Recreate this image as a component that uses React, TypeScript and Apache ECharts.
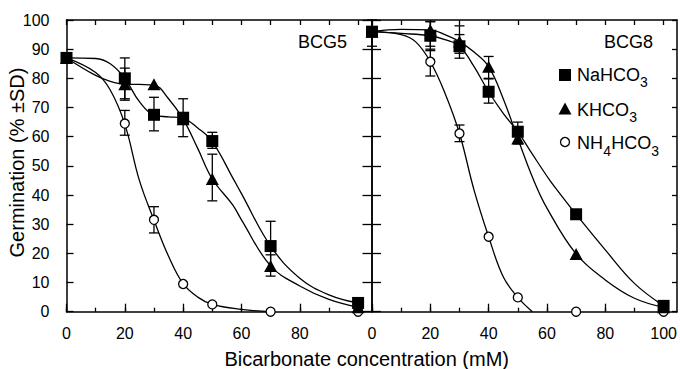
import React, { useEffect, useRef } from "react";
import * as echarts from "echarts";

// ---------- data ----------
const conc = [0, 20, 30, 40, 50, 70, 100];
const xTickValues = [0, 10, 20, 30, 40, 50, 60, 70, 80, 90, 100];
const xMajorTicks = [0, 20, 40, 60, 80, 100];
const xLabelsLeft = [0, 20, 40, 60, 80];
const xLabelsRight = [0, 20, 40, 60, 80, 100];

// BCG5 means
const bcg5Na = [87, 80, 67.5, 66.5, 58.5, 22.5, 3];
const bcg5K = [87, 78, 78, 66, 45.5, 15.7, 1.5];
const bcg5NH4 = [87, 64.5, 31.5, 9.5, 2.5, 0, 0];
// BCG8 means
const bcg8Na = [96, 94.6, 91, 75.4, 61.7, 33.4, 2];
const bcg8K = [96, 96.6, 92.6, 84, 59.4, 19.8, 1.5];
const bcg8NH4 = [96, 85.7, 61.1, 25.7, 4.9, 0, 0];

// error bars [x, low, high]
const bcg5NaErr = [[20, 73, 87], [30, 62, 73.5], [40, 60, 73], [50, 56, 61.5], [70, 14, 31]];
const bcg5KErr = [[20, 72.5, 83.5], [50, 38, 54], [70, 12.2, 19.5]];
const bcg5NH4Err = [[20, 60.5, 69], [30, 27, 36]];
const bcg8NaErr = [[0, 91, 100], [20, 89.5, 99.5], [30, 86.9, 95], [40, 71.5, 79.8], [50, 57.5, 65]];
const bcg8KErr = [[20, 91, 99.4], [30, 88.6, 98], [40, 80, 87.5]];
const bcg8NH4Err = [[20, 80.8, 90], [30, 58.3, 64]];

// fitted curves [x, y]
const bcg5NaCurve = [[0, 87], [10, 86.8], [15, 85], [20, 80], [25, 72], [30, 67.4], [35, 66.8], [40, 66.3], [45, 63], [50, 58.3], [57.5, 45], [60, 40.5], [70, 22.5], [80, 11.5], [90, 5.8], [100, 3]];
const bcg5KCurve = [[0, 87], [10, 81], [15, 79], [20, 78], [25, 77.9], [30, 77.7], [35, 73], [40, 66], [45, 56], [50, 45.5], [57, 36.6], [60, 31.5], [70, 15.7], [80, 8.8], [90, 4.2], [100, 1.5]];
const bcg5NH4Curve = [[0, 87], [10, 82], [15, 76], [20, 64.3], [25, 45], [30, 31.4], [35, 19], [40, 9.6], [45, 5], [50, 2.5], [60, 0.8], [70, 0]];
const bcg8NaCurve = [[0, 96], [10, 95.4], [20, 94.6], [25, 93.3], [30, 91], [35, 84], [40, 75.4], [45, 68], [50, 61.7], [55, 54], [61, 45], [63.5, 41.7], [70, 33.4], [80, 21.2], [90, 9.7], [100, 2]];
const bcg8KCurve = [[0, 96], [10, 96.8], [20, 96.6], [25, 95], [30, 92.6], [35, 89], [40, 84], [45, 73], [50, 59.4], [55.4, 45.2], [60, 35.5], [70, 19.8], [80, 10.9], [90, 4.6], [100, 1.5]];
const bcg8NH4Curve = [[0, 96], [10, 95], [15, 92.5], [20, 85.7], [25, 75], [30, 61.1], [35, 41.7], [40, 25.7], [45, 12], [50, 4.9], [55, 0]];

const panelLabels = ["BCG5", "BCG8"];
const xTitle = "Bicarbonate concentration (mM)";
const yTitle = "Germination (% \u00b1SD)";

const FONT = "Liberation Sans, Arial, Helvetica, sans-serif";
const BLACK = "#000";

const pairs = (vals: number[]) => conc.map((c, i) => [c, vals[i]]);

const errRender = (params: any, api: any) => {
  const x = api.value(0);
  const lo = api.value(1);
  const hi = api.value(2);
  const pLo = api.coord([x, lo]);
  const pHi = api.coord([x, hi]);
  const w = 5;
  const st = { stroke: BLACK, lineWidth: 1.3 };
  return {
    type: "group",
    children: [
      { type: "line", shape: { x1: pLo[0], y1: pLo[1], x2: pHi[0], y2: pHi[1] }, style: st },
      { type: "line", shape: { x1: pHi[0] - w, y1: pHi[1], x2: pHi[0] + w, y2: pHi[1] }, style: st },
      { type: "line", shape: { x1: pLo[0] - w, y1: pLo[1], x2: pLo[0] + w, y2: pLo[1] }, style: st },
    ],
  };
};

const curveSeries = (data: number[][], ai: number) => ({
  type: "line",
  xAxisIndex: ai,
  yAxisIndex: ai,
  data,
  smooth: 0.4,
  symbol: "none",
  showSymbol: false,
  silent: true,
  lineStyle: { color: BLACK, width: 1.3 },
  z: 2,
});

const errSeries = (data: number[][], ai: number) => ({
  type: "custom",
  xAxisIndex: ai,
  yAxisIndex: ai,
  data,
  renderItem: errRender,
  encode: { x: 0, y: [1, 2] },
  silent: true,
  z: 3,
});

const markerStyle: Record<string, any> = {
  NaHCO3: { symbol: "rect", symbolSize: 12, itemStyle: { color: BLACK, opacity: 1 } },
  KHCO3: { symbol: "triangle", symbolSize: [13, 12], itemStyle: { color: BLACK, opacity: 1 } },
  NH4HCO3: { symbol: "circle", symbolSize: 9, itemStyle: { color: "#fff", borderColor: BLACK, borderWidth: 1.3, opacity: 1 } },
};

const markSeries = (name: string, data: number[][], ai: number, z: number) => ({
  type: "scatter",
  name,
  xAxisIndex: ai,
  yAxisIndex: ai,
  data,
  ...markerStyle[name],
  silent: true,
  z,
});

const lineStyle = { color: BLACK, width: 1.5 };
const tickStyle = { color: BLACK, width: 1.3 };

const xMain = (grid: number, labels: number[]) => ({
  type: "value",
  gridIndex: grid,
  min: 0,
  max: 104.6,
  interval: 10,
  position: "bottom",
  axisLine: { show: true, onZero: false, lineStyle },
  axisTick: { show: true, inside: true, length: 4, lineStyle: tickStyle, customValues: xTickValues },
  axisLabel: {
    show: true,
    customValues: labels,
    formatter: (v: number) => (labels.indexOf(v) >= 0 ? String(v) : ""),
    margin: 14,
    fontSize: 16,
    fontFamily: FONT,
    color: BLACK,
  },
  splitLine: { show: false },
});

const xTop = (grid: number) => ({
  type: "value",
  gridIndex: grid,
  min: 0,
  max: 104.6,
  interval: 10,
  position: "top",
  axisLine: { show: true, onZero: false, lineStyle },
  axisTick: { show: true, inside: true, length: 5, lineStyle: tickStyle, customValues: xTickValues },
  axisLabel: { show: false },
  splitLine: { show: false },
});

const xMajor = (grid: number) => ({
  type: "value",
  gridIndex: grid,
  min: 0,
  max: 104.6,
  interval: 20,
  position: "bottom",
  axisLine: { show: false, onZero: false },
  axisTick: { show: true, inside: true, length: 8, lineStyle: tickStyle, customValues: xMajorTicks },
  axisLabel: { show: false },
  splitLine: { show: false },
});

const yAx = (grid: number, position: string, tickLen: number, labels: boolean) => ({
  type: "value",
  gridIndex: grid,
  min: 0,
  max: 100,
  interval: 10,
  position,
  axisLine: { show: true, onZero: false, lineStyle },
  axisTick: { show: true, inside: true, length: tickLen, lineStyle: tickStyle },
  axisLabel: labels
    ? { show: true, margin: 17, fontSize: 16, fontFamily: FONT, color: BLACK }
    : { show: false },
  splitLine: { show: false },
});

const yHidden = (grid: number) => ({
  type: "value",
  gridIndex: grid,
  min: 0,
  max: 100,
  show: false,
});

const txt = (text: string, x: number, y: number, size: number, align = "left", extra: any = {}) => ({
  type: "text",
  x,
  y,
  silent: true,
  ...extra,
  style: { text, fontSize: size, fontFamily: FONT, fill: BLACK, align, verticalAlign: "middle" },
});

export default function App() {
  const ref = useRef<HTMLDivElement>(null);

  useEffect(() => {
    if (!ref.current) return;
    const chart = echarts.init(ref.current, undefined, { renderer: "svg" });
    const gridBase = { top: 20, height: 291.7, width: 305, containLabel: false };
    const option: any = {
      animation: false,
      backgroundColor: "#fff",
      grid: [
        { ...gridBase, left: 66.5 },
        { ...gridBase, left: 372 },
        { ...gridBase, left: 66.5 },
        { ...gridBase, left: 372 },
      ],
      xAxis: [xMain(0, xLabelsLeft), xTop(0), xMain(1, xLabelsRight), xTop(1), xMajor(2), xMajor(3)],
      yAxis: [
        yAx(0, "left", 7, true),
        yAx(0, "right", 9, false),
        yAx(1, "left", 9, false),
        yAx(1, "right", 5, false),
        yHidden(2),
        yHidden(3),
      ],
      series: [
        curveSeries(bcg5NaCurve, 0),
        curveSeries(bcg5KCurve, 0),
        curveSeries(bcg5NH4Curve, 0),
        curveSeries(bcg8NaCurve, 2),
        curveSeries(bcg8KCurve, 2),
        curveSeries(bcg8NH4Curve, 2),
        errSeries(bcg5NaErr, 0),
        errSeries(bcg5KErr, 0),
        errSeries(bcg5NH4Err, 0),
        errSeries(bcg8NaErr, 2),
        errSeries(bcg8KErr, 2),
        errSeries(bcg8NH4Err, 2),
        markSeries("NH4HCO3", pairs(bcg5NH4), 0, 4),
        markSeries("KHCO3", pairs(bcg5K), 0, 5),
        markSeries("NaHCO3", pairs(bcg5Na), 0, 6),
        markSeries("NH4HCO3", pairs(bcg8NH4), 2, 4),
        markSeries("KHCO3", pairs(bcg8K), 2, 5),
        markSeries("NaHCO3", pairs(bcg8Na), 2, 6),
      ],
      graphic: [
        txt(panelLabels[0], 347, 42, 18, "right"),
        txt(panelLabels[1], 653, 42, 18, "right"),
        // legend
        { type: "rect", silent: true, shape: { x: 559, y: 69, width: 12, height: 12 }, style: { fill: BLACK } },
        { type: "polygon", silent: true, shape: { points: [[565, 102.5], [571.5, 114.5], [558.5, 114.5]] }, style: { fill: BLACK } },
        { type: "circle", silent: true, shape: { cx: 565, cy: 142, r: 4.5 }, style: { fill: "#fff", stroke: BLACK, lineWidth: 1.3 } },
        txt("NaHCO", 577, 74.5, 18),
        txt("3", 640, 81.5, 14),
        txt("KHCO", 577, 110, 18),
        txt("3", 629.3, 117, 14),
        txt("NH", 577, 143.3, 18),
        txt("4", 603.2, 150.5, 14),
        txt("HCO", 611.2, 143.3, 18),
        txt("3", 651.2, 150.5, 14),
        // axis titles
        txt(xTitle, 366.7, 359, 20, "center"),
        txt(yTitle, 17, 162.5, 20, "center", { rotation: Math.PI / 2 }),
      ],
    };
    chart.setOption(option);
    return () => chart.dispose();
  }, []);

  return (
    <div
      ref={ref}
      style={{ position: "absolute", left: 0, top: 0, width: 680, height: 369, background: "#fff" }}
    />
  );
}
